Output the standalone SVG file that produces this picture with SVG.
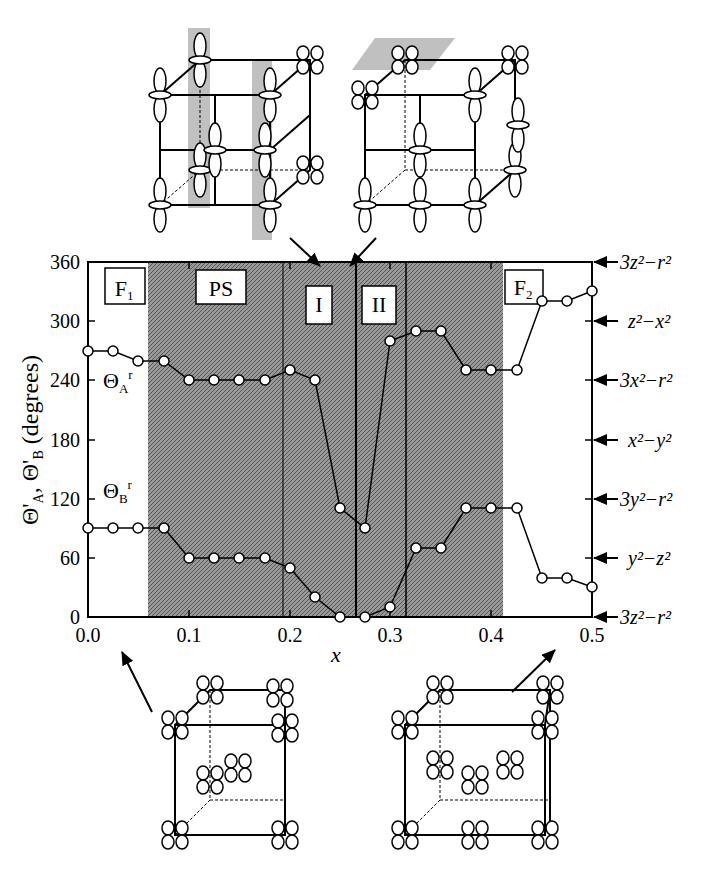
<svg xmlns="http://www.w3.org/2000/svg" width="708" height="882" viewBox="0 0 708 882">
<style>
text{font-family:"Liberation Serif",serif;fill:#000}
.t{font-size:20px}
.ax{fill:none;stroke:#000;stroke-width:2}
.ln{fill:none;stroke:#000;stroke-width:1.5}
.pt{fill:#fff;stroke:#000;stroke-width:1.5}
.lobe{fill:#fff;stroke:#000;stroke-width:1.5}
.cube{fill:none;stroke:#000;stroke-width:2}
.dash{fill:none;stroke:#000;stroke-width:1;stroke-dasharray:3,2}
.box{fill:#fff;stroke:#000;stroke-width:1.5}
</style>
<defs>
<pattern id="hatch" width="4" height="4" patternUnits="userSpaceOnUse">
<rect width="4" height="4" fill="#9a9a9a"/>
<path d="M0,4 L4,0" stroke="#555" stroke-width="1"/>
</pattern>
<marker id="ar" markerWidth="14" markerHeight="12" refX="13" refY="6" orient="auto" markerUnits="userSpaceOnUse">
<path d="M0,0 L14,6 L0,12 z" fill="#000"/>
</marker>
<g id="db"><ellipse class="lobe" cx="0" cy="-14" rx="6" ry="13"/><ellipse class="lobe" cx="0" cy="14" rx="6" ry="13"/><ellipse class="lobe" cx="0" cy="0" rx="11" ry="4"/></g>
<g id="cl"><ellipse class="lobe" cx="-7" cy="-7" rx="6" ry="7"/><ellipse class="lobe" cx="7" cy="-7" rx="6" ry="7"/><ellipse class="lobe" cx="-7" cy="7" rx="6" ry="7"/><ellipse class="lobe" cx="7" cy="7" rx="6" ry="7"/></g>
</defs>

<g id="plot">
<rect x="148" y="262" width="355" height="355" fill="url(#hatch)"/>
<line x1="283" y1="262" x2="283" y2="617" stroke="#000" stroke-width="1"/>
<line x1="356" y1="262" x2="356" y2="617" stroke="#000" stroke-width="2"/>
<line x1="406" y1="262" x2="406" y2="617" stroke="#000" stroke-width="1.5"/>
<rect class="ax" x="88" y="262" width="504" height="355"/>
<g stroke="#000" stroke-width="1.5">
<line x1="88" y1="321" x2="95" y2="321"/><line x1="88" y1="380" x2="95" y2="380"/><line x1="88" y1="440" x2="95" y2="440"/><line x1="88" y1="499" x2="95" y2="499"/><line x1="88" y1="558" x2="95" y2="558"/>
<line x1="585" y1="321" x2="592" y2="321"/><line x1="585" y1="380" x2="592" y2="380"/><line x1="585" y1="440" x2="592" y2="440"/><line x1="585" y1="499" x2="592" y2="499"/><line x1="585" y1="558" x2="592" y2="558"/>
<line x1="189" y1="617" x2="189" y2="610"/><line x1="290" y1="617" x2="290" y2="610"/><line x1="390" y1="617" x2="390" y2="610"/><line x1="491" y1="617" x2="491" y2="610"/>
<line x1="189" y1="262" x2="189" y2="269"/><line x1="290" y1="262" x2="290" y2="269"/><line x1="390" y1="262" x2="390" y2="269"/><line x1="491" y1="262" x2="491" y2="269"/>
</g>
<g class="t" text-anchor="end">
<text x="80" y="269">360</text><text x="80" y="328">300</text><text x="80" y="387">240</text><text x="80" y="447">180</text><text x="80" y="506">120</text><text x="80" y="565">60</text><text x="80" y="624">0</text>
</g>
<g class="t" text-anchor="middle">
<text x="88" y="642">0.0</text><text x="189" y="642">0.1</text><text x="290" y="642">0.2</text><text x="390" y="642">0.3</text><text x="491" y="642">0.4</text><text x="592" y="642">0.5</text>
<text x="336" y="662" font-style="italic" font-size="22">x</text>
</g>
<text font-size="24" transform="translate(38,440) rotate(-90)" text-anchor="middle">Θ'<tspan font-size="14" dy="5">A</tspan><tspan dy="-5">, Θ'</tspan><tspan font-size="14" dy="5">B</tspan><tspan dy="-5"> (degrees)</tspan></text>
<text x="103" y="388" font-size="22">Θ<tspan font-size="13" dy="5">A</tspan><tspan font-size="13" dy="-14">r</tspan></text>
<text x="103" y="498" font-size="22">Θ<tspan font-size="13" dy="5">B</tspan><tspan font-size="13" dy="-14">r</tspan></text>
<g font-size="22" text-anchor="middle">
<rect class="box" x="105" y="268" width="40" height="36"/><text x="124" y="296">F<tspan font-size="13" dy="4">1</tspan></text>
<rect class="box" x="196" y="270" width="50" height="34"/><text x="221" y="296">PS</text>
<rect class="box" x="306" y="286" width="26" height="38"/><text x="319" y="312">I</text>
<rect class="box" x="362" y="286" width="34" height="38"/><text x="379" y="312">II</text>
<rect class="box" x="505" y="270" width="38" height="34"/><text x="523" y="295">F<tspan font-size="13" dy="4">2</tspan></text>
</g>
<g font-size="20" font-style="italic">
<text x="620" y="269">3z²−r²</text><text x="628" y="328">z²−x²</text><text x="620" y="387">3x²−r²</text><text x="628" y="447">x²−y²</text><text x="620" y="506">3y²−r²</text><text x="628" y="565">y²−z²</text><text x="620" y="624">3z²−r²</text>
</g>
</g>

<g id="connectors">
<g stroke="#000" stroke-width="2" marker-end="url(#ar)">
<line x1="618" y1="262" x2="594" y2="262"/><line x1="618" y1="321" x2="594" y2="321"/><line x1="618" y1="380" x2="594" y2="380"/><line x1="618" y1="440" x2="594" y2="440"/><line x1="618" y1="499" x2="594" y2="499"/><line x1="618" y1="558" x2="594" y2="558"/><line x1="618" y1="617" x2="594" y2="617"/>
<line x1="290" y1="238" x2="320" y2="266"/><line x1="376" y1="238" x2="350" y2="266"/>
<line x1="152" y1="712" x2="122" y2="652"/><line x1="512" y1="692" x2="555" y2="650"/>
</g>
<polyline class="ln" points="88,351 113,351 138,361 164,361 189,380 214,380 239,380 265,380 290,370 315,380 340,508 365,528 390,341 416,331 441,331 466,370 491,370 517,370 542,301 567,301 592,291"/>
<polyline class="ln" points="88,528 113,528 138,528 164,528 189,558 214,558 239,558 265,558 290,568 315,597 340,617 365,617 390,607 416,548 441,548 466,508 491,508 517,508 542,578 567,578 592,587"/>
<g class="pt">
<circle cx="88" cy="351" r="5"/><circle cx="113" cy="351" r="5"/><circle cx="138" cy="361" r="5"/><circle cx="164" cy="361" r="5"/><circle cx="189" cy="380" r="5"/><circle cx="214" cy="380" r="5"/><circle cx="239" cy="380" r="5"/><circle cx="265" cy="380" r="5"/><circle cx="290" cy="370" r="5"/><circle cx="315" cy="380" r="5"/><circle cx="340" cy="508" r="5"/><circle cx="365" cy="528" r="5"/><circle cx="390" cy="341" r="5"/><circle cx="416" cy="331" r="5"/><circle cx="441" cy="331" r="5"/><circle cx="466" cy="370" r="5"/><circle cx="491" cy="370" r="5"/><circle cx="517" cy="370" r="5"/><circle cx="542" cy="301" r="5"/><circle cx="567" cy="301" r="5"/><circle cx="592" cy="291" r="5"/>
<circle cx="88" cy="528" r="5"/><circle cx="113" cy="528" r="5"/><circle cx="138" cy="528" r="5"/><circle cx="164" cy="528" r="5"/><circle cx="189" cy="558" r="5"/><circle cx="214" cy="558" r="5"/><circle cx="239" cy="558" r="5"/><circle cx="265" cy="558" r="5"/><circle cx="290" cy="568" r="5"/><circle cx="315" cy="597" r="5"/><circle cx="340" cy="617" r="5"/><circle cx="365" cy="617" r="5"/><circle cx="390" cy="607" r="5"/><circle cx="416" cy="548" r="5"/><circle cx="441" cy="548" r="5"/><circle cx="466" cy="508" r="5"/><circle cx="491" cy="508" r="5"/><circle cx="517" cy="508" r="5"/><circle cx="542" cy="578" r="5"/><circle cx="567" cy="578" r="5"/><circle cx="592" cy="587" r="5"/>
</g>
</g>

<g id="cube-top-left">
<polygon points="188,28 210,28 210,208 188,208" fill="#b0b0b0" opacity="0.8"/>
<polygon points="252,60 272,60 272,240 252,240" fill="#b0b0b0" opacity="0.8"/>
<rect class="cube" x="160" y="95" width="110" height="110"/>
<path class="cube" d="M160,95 L200,60 L310,60 L310,170 L270,205 M270,95 L310,60"/>
<path class="dash" d="M200,60 L200,170 L310,170 M200,170 L160,205"/>
<path class="cube" d="M215,95 L215,205 M160,150 L270,150 M270,150 L310,115"/>
<use href="#db" x="160" y="95"/><use href="#db" x="270" y="95"/><use href="#db" x="160" y="205"/><use href="#db" x="270" y="205"/>
<use href="#db" x="200" y="60"/><use href="#cl" x="310" y="60"/><use href="#cl" x="310" y="170"/><use href="#db" x="200" y="170"/>
<use href="#db" x="215" y="150"/><use href="#db" x="265" y="150"/>
</g>

<g id="cube-top-right">
<polygon points="375,38 455,38 430,70 352,70" fill="#b0b0b0" opacity="0.8"/>
<rect class="cube" x="365" y="95" width="110" height="110"/>
<path class="cube" d="M365,95 L405,60 L515,60 L515,170 L475,205 M475,95 L515,60"/>
<path class="dash" d="M405,60 L405,170 L515,170 M405,170 L365,205"/>
<path class="cube" d="M420,95 L420,205 M365,150 L475,150"/>
<use href="#cl" x="365" y="95"/><use href="#cl" x="405" y="60"/><use href="#cl" x="515" y="60"/><use href="#db" x="475" y="95"/>
<use href="#db" x="365" y="205"/><use href="#db" x="475" y="205"/><use href="#db" x="515" y="170"/><use href="#db" x="420" y="150"/><use href="#db" x="420" y="205"/><use href="#db" x="518" y="125"/>
</g>

<g id="cube-bottom-left">
<rect class="cube" x="175" y="725" width="110" height="110"/>
<path class="cube" d="M175,725 L210,690 L285,690 L285,800 M285,725 L285,690"/>
<path class="dash" d="M210,690 L210,800 L285,800 M210,800 L175,835"/>
<use href="#cl" x="175" y="725"/><use href="#cl" x="210" y="690"/><use href="#cl" x="280" y="693"/><use href="#cl" x="285" y="728"/>
<use href="#cl" x="210" y="780"/><use href="#cl" x="238" y="768"/><use href="#cl" x="175" y="835"/><use href="#cl" x="285" y="835"/>
</g>

<g id="cube-bottom-right">
<rect class="cube" x="405" y="725" width="140" height="110"/>
<path class="cube" d="M405,725 L440,690 L550,690 L550,835 M545,725 L550,690"/>
<path class="dash" d="M440,690 L440,800 L550,800 M440,800 L405,835"/>
<use href="#cl" x="405" y="725"/><use href="#cl" x="440" y="690"/><use href="#cl" x="550" y="690"/><use href="#cl" x="545" y="725"/>
<use href="#cl" x="440" y="765"/><use href="#cl" x="510" y="765"/><use href="#cl" x="405" y="835"/><use href="#cl" x="545" y="835"/><use href="#cl" x="475" y="835"/><use href="#cl" x="475" y="780"/>
</g>
</svg>
